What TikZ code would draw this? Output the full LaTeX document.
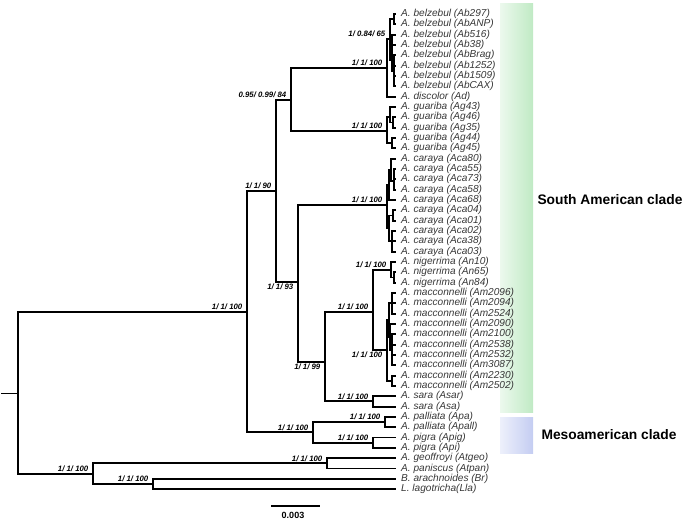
\documentclass[tikz,border=0pt]{standalone}
\usepackage{fontspec}
\setmainfont{Liberation Sans}
\definecolor{sagreen}{RGB}{192,234,196}
\definecolor{mesoblue}{RGB}{196,205,242}
\definecolor{tipgray}{RGB}{55,55,55}
\tikzset{
  branch/.style={line width=1.9pt},
  taxon/.style={anchor=west, inner xsep=5pt, inner ysep=0pt, text=tipgray,
    font=\fontsize{10.1}{12}\selectfont\itshape},
  supup/.style={anchor=south east, inner xsep=4.5pt, inner ysep=2pt,
    font=\fontsize{7.8}{9}\selectfont\bfseries\itshape},
  supdown/.style={anchor=north east, inner xsep=4.5pt, inner ysep=2pt,
    font=\fontsize{7.8}{9}\selectfont\bfseries\itshape},
  cladelbl/.style={anchor=west, font=\fontsize{13.8}{16}\selectfont\bfseries}
}
\begin{document}
\begin{tikzpicture}[x=1pt,y=-1pt]
  \useasboundingbox (0,0) rectangle (685,520);

  % Bandes des clades
  \shade[left color=sagreen!30, right color=sagreen] (500,3) rectangle (533,412);
  \shade[left color=mesoblue!30, right color=mesoblue] (500,417) rectangle (533,453);
  \node[cladelbl] (sam) at (534,200) {South American clade};
  \node[cladelbl] (meso) at (538,435) {Mesoamerican clade};

  % Feuilles
  \node[taxon] (t1) at (396,14.0) {A. belzebul (Ab297)};
  \node[taxon] (t2) at (396,24.3) {A. belzebul (AbANP)};
  \node[taxon] (t3) at (396,34.7) {A. belzebul (Ab516)};
  \node[taxon] (t4) at (396,45.0) {A. belzebul (Ab38)};
  \node[taxon] (t5) at (396,55.3) {A. belzebul (AbBrag)};
  \node[taxon] (t6) at (396,65.7) {A. belzebul (Ab1252)};
  \node[taxon] (t7) at (396,76.0) {A. belzebul (Ab1509)};
  \node[taxon] (t8) at (396,86.3) {A. belzebul (AbCAX)};
  \node[taxon] (t9) at (396,96.6) {A. discolor (Ad)};
  \node[taxon] (t10) at (396,107.0) {A. guariba (Ag43)};
  \node[taxon] (t11) at (396,117.3) {A. guariba (Ag46)};
  \node[taxon] (t12) at (396,127.6) {A. guariba (Ag35)};
  \node[taxon] (t13) at (396,138.0) {A. guariba (Ag44)};
  \node[taxon] (t14) at (396,148.3) {A. guariba (Ag45)};
  \node[taxon] (t15) at (396,158.6) {A. caraya (Aca80)};
  \node[taxon] (t16) at (396,169.0) {A. caraya (Aca55)};
  \node[taxon] (t17) at (396,179.3) {A. caraya (Aca73)};
  \node[taxon] (t18) at (396,189.6) {A. caraya (Aca58)};
  \node[taxon] (t19) at (396,199.9) {A. caraya (Aca68)};
  \node[taxon] (t20) at (396,210.3) {A. caraya (Aca04)};
  \node[taxon] (t21) at (396,220.6) {A. caraya (Aca01)};
  \node[taxon] (t22) at (396,230.9) {A. caraya (Aca02)};
  \node[taxon] (t23) at (396,241.3) {A. caraya (Aca38)};
  \node[taxon] (t24) at (396,251.6) {A. caraya (Aca03)};
  \node[taxon] (t25) at (396,261.9) {A. nigerrima (An10)};
  \node[taxon] (t26) at (396,272.3) {A. nigerrima (An65)};
  \node[taxon] (t27) at (396,282.6) {A. nigerrima (An84)};
  \node[taxon] (t28) at (396,292.9) {A. macconnelli (Am2096)};
  \node[taxon] (t29) at (396,303.2) {A. macconnelli (Am2094)};
  \node[taxon] (t30) at (396,313.6) {A. macconnelli (Am2524)};
  \node[taxon] (t31) at (396,323.9) {A. macconnelli (Am2090)};
  \node[taxon] (t32) at (396,334.2) {A. macconnelli (Am2100)};
  \node[taxon] (t33) at (396,344.6) {A. macconnelli (Am2538)};
  \node[taxon] (t34) at (396,354.9) {A. macconnelli (Am2532)};
  \node[taxon] (t35) at (396,365.2) {A. macconnelli (Am3087)};
  \node[taxon] (t36) at (396,375.6) {A. macconnelli (Am2230)};
  \node[taxon] (t37) at (396,385.9) {A. macconnelli (Am2502)};
  \node[taxon] (t38) at (396,396.2) {A. sara (Asar)};
  \node[taxon] (t39) at (396,406.6) {A. sara (Asa)};
  \node[taxon] (t40) at (396,416.9) {A. palliata (Apa)};
  \node[taxon] (t41) at (396,427.2) {A. palliata (Apall)};
  \node[taxon] (t42) at (396,437.5) {A. pigra (Apig)};
  \node[taxon] (t43) at (396,447.9) {A. pigra (Api)};
  \node[taxon] (t44) at (396,458.2) {A. geoffroyi (Atgeo)};
  \node[taxon] (t45) at (396,468.5) {A. paniscus (Atpan)};
  \node[taxon] (t46) at (396,478.8) {B. arachnoides (Br)};
  \node[taxon] (t47) at (396,489.2) {L. lagotricha(Lla)};

  % Noeuds internes
  \coordinate (base) at (1,393.5);
  \coordinate (R) at (18,393.5);
  \coordinate (A) at (247,312);
  \coordinate (B) at (276,191);
  \coordinate (C) at (291,100);
  \coordinate (D) at (387,68);
  \coordinate (B1) at (390,39);
  \coordinate (b12) at (394,19.2);
  \coordinate (b3) at (392,60.5);
  \coordinate (b5) at (394,70.8);
  \coordinate (G) at (387,131);
  \coordinate (g1) at (390,117);
  \coordinate (g11) at (393,122.5);
  \coordinate (g2) at (392,143.2);
  \coordinate (F) at (298,282);
  \coordinate (K) at (387,205);
  \coordinate (k1) at (389,185);
  \coordinate (k11) at (391,170);
  \coordinate (k12) at (394,181);
  \coordinate (k2) at (389,228);
  \coordinate (k21) at (393,215.5);
  \coordinate (k22) at (392,241.3);
  \coordinate (H) at (325,362);
  \coordinate (I) at (373,312);
  \coordinate (N) at (391,270);
  \coordinate (n2) at (394,277.5);
  \coordinate (M) at (387,350);
  \coordinate (m1) at (389,320);
  \coordinate (m11) at (392,303.2);
  \coordinate (m12) at (390,337);
  \coordinate (m13) at (392,350);
  \coordinate (m3) at (392,380.8);
  \coordinate (S) at (373,401.4);
  \coordinate (P) at (313,432.4);
  \coordinate (Pa) at (385,422);
  \coordinate (Pg) at (373,442.7);
  \coordinate (E) at (93,474);
  \coordinate (Q) at (327,463.4);
  \coordinate (L) at (153,484);

  % Branches
  \draw[branch] (base) -- (R);
  \draw[branch] (R) |- (A) (R) |- (E);
  \draw[branch] (A) |- (B) (A) |- (P);
  \draw[branch] (B) |- (C) (B) |- (F);
  \draw[branch] (C) |- (D) (C) |- (G);
  \draw[branch] (D) |- (B1) (D) |- (t9.west);
  \draw[branch] (B1) |- (b12) (B1) |- (b3);
  \draw[branch] (b12) |- (t1.west) (b12) |- (t2.west);
  \draw[branch] (b3) |- (t3.west) (b3) |- (t4.west) (b3) |- (b5);
  \draw[branch] (b5) |- (t5.west) (b5) |- (t6.west) (b5) |- (t7.west) (b5) |- (t8.west);
  \draw[branch] (G) |- (g1) (G) |- (g2);
  \draw[branch] (g1) |- (t10.west) (g1) |- (g11);
  \draw[branch] (g11) |- (t11.west) (g11) |- (t12.west);
  \draw[branch] (g2) |- (t13.west) (g2) |- (t14.west);
  \draw[branch] (F) |- (K) (F) |- (H);
  \draw[branch] (K) |- (k1) (K) |- (k2);
  \draw[branch] (k1) |- (k11) (k1) |- (t19.west);
  \draw[branch] (k11) |- (t15.west) (k11) |- (k12);
  \draw[branch] (k12) |- (t16.west) (k12) |- (t17.west) (k12) |- (t18.west);
  \draw[branch] (k2) |- (k21) (k2) |- (k22);
  \draw[branch] (k21) |- (t20.west) (k21) |- (t21.west);
  \draw[branch] (k22) |- (t22.west) (k22) |- (t23.west) (k22) |- (t24.west);
  \draw[branch] (H) |- (I) (H) |- (S);
  \draw[branch] (I) |- (N) (I) |- (M);
  \draw[branch] (N) |- (t25.west) (N) |- (n2);
  \draw[branch] (n2) |- (t26.west) (n2) |- (t27.west);
  \draw[branch] (M) |- (m1) (M) |- (m3);
  \draw[branch] (m1) |- (m11) (m1) |- (m12);
  \draw[branch] (m11) |- (t28.west) (m11) |- (t29.west) (m11) |- (t30.west);
  \draw[branch] (m12) |- (t31.west) (m12) |- (m13);
  \draw[branch] (m13) |- (t32.west) (m13) |- (t33.west) (m13) |- (t34.west) (m13) |- (t35.west);
  \draw[branch] (m3) |- (t36.west) (m3) |- (t37.west);
  \draw[branch] (S) |- (t38.west) (S) |- (t39.west);
  \draw[branch] (P) |- (Pa) (P) |- (Pg);
  \draw[branch] (Pa) |- (t40.west) (Pa) |- (t41.west);
  \draw[branch] (Pg) |- (t42.west) (Pg) |- (t43.west);
  \draw[branch] (E) |- (Q) (E) |- (L);
  \draw[branch] (Q) |- (t44.west) (Q) |- (t45.west);
  \draw[branch] (L) |- (t46.west) (L) |- (t47.west);

  % Supports
  \node[supup] (sA) at (A) {1/ 1/ 100};
  \node[supup] (sB) at (B) {1/ 1/ 90};
  \node[supup] (sC) at (C) {0.95/ 0.99/ 84};
  \node[supup] (sD) at (D) {1/ 1/ 100};
  \node[supup] (sB1) at (B1) {1/ 0.84/ 65};
  \node[supup] (sG) at (G) {1/ 1/ 100};
  \node[supup] (sK) at (K) {1/ 1/ 100};
  \node[supdown] (sF) at (F) {1/ 1/ 93};
  \node[supdown] (sH) at (H) {1/ 1/ 99};
  \node[supup] (sI) at (I) {1/ 1/ 100};
  \node[supup] (sN) at (N) {1/ 1/ 100};
  \node[supdown] (sM) at (M) {1/ 1/ 100};
  \node[supup] (sS) at (S) {1/ 1/ 100};
  \node[supup] (sP) at (P) {1/ 1/ 100};
  \node[supup] (sPa) at (Pa) {1/ 1/ 100};
  \node[supup] (sPg) at (Pg) {1/ 1/ 100};
  \node[supup] (sQ) at (Q) {1/ 1/ 100};
  \node[supup] (sE) at (E) {1/ 1/ 100};
  \node[supup] (sL) at (L) {1/ 1/ 100};

  % Echelle
  \coordinate (sb1) at (271,506);
  \coordinate (sb2) at (320,506);
  \draw[line width=1.4pt] (sb1) -- (sb2);
  \node[font=\fontsize{9}{10}\selectfont\bfseries] (sbl) at (293,515) {0.003};
\end{tikzpicture}
\end{document}
